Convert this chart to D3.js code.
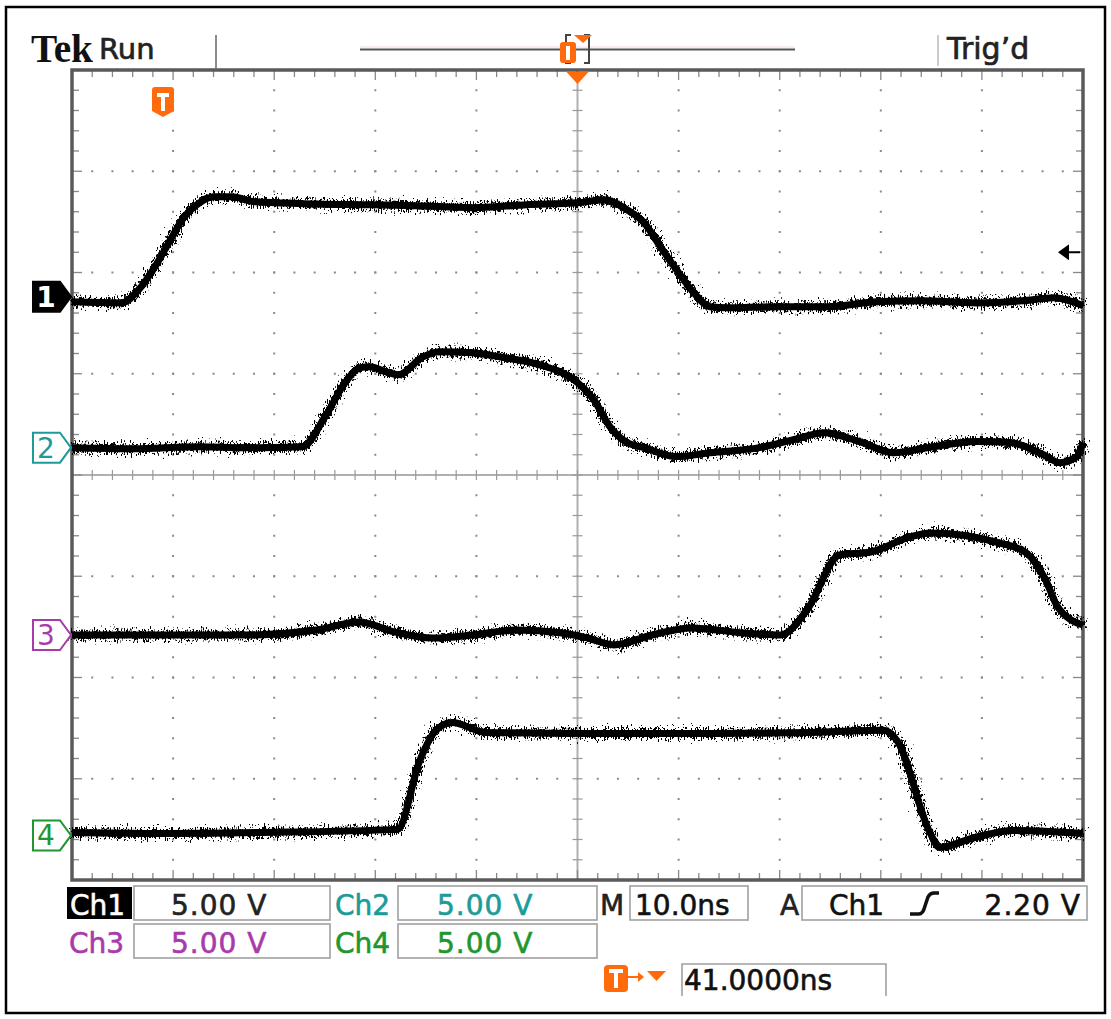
<!DOCTYPE html>
<html>
<head>
<meta charset="utf-8">
<script src="https://cdn.jsdelivr.net/npm/d3@7"></script>
<style>
body { margin: 0; background: #fff; }
svg { display: block; }
text { font-family: "DejaVu Sans", sans-serif; }
</style>
</head>
<body>
<div id="scope"></div>
<script>
// trace samples: time in ns (trigger = 0), volts
let ch1T = [-9, -4.1, -2.4, -0.8, 0.9, 1.9, 3.6, 5.1, 6.8, 9.1, 14, 20.7, 25, 30.6, 36, 41, 43.6, 45.9, 47.6, 49.2, 50.8, 52.5, 54.1, 55.8, 60.7, 65.7, 70.6, 75, 80.5, 85, 88.1, 91];
let ch1V = [-0.25, -0.3, 0.35, 1.48, 2.96, 3.8, 4.64, 4.94, 4.94, 4.69, 4.6, 4.54, 4.5, 4.4, 4.55, 4.64, 4.79, 4.3, 3.65, 2.47, 1.33, 0.2, -0.49, -0.54, -0.49, -0.49, -0.25, -0.2, -0.3, -0.2, -0.05, -0.44];

let ch2T = [-9, -3, 3.7, 8, 13.8, 16, 18, 19.5, 20.5, 22, 23.3, 25.6, 27.3, 30.6, 33.8, 37.2, 41, 42.6, 44.2, 45.9, 47.6, 50.8, 54.1, 59, 62.4, 65.4, 68.9, 72.3, 75.6, 80.5, 83.8, 87.1, 88.7, 90.4, 91];
let ch2V = [0, -0.05, 0.05, 0, 0.05, 1.5, 3.2, 3.95, 4.0, 3.75, 3.6, 4.45, 4.74, 4.69, 4.44, 4.1, 3.21, 2.37, 1.04, 0.25, 0, -0.44, -0.25, 0, 0.4, 0.74, 0.3, -0.25, 0, 0.3, 0.25, -0.35, -0.74, -0.44, 0.25];

let ch3T = [-9, 0, 8, 15.2, 19.4, 22.9, 26.7, 30.6, 35, 39.5, 42, 44.6, 48.4, 52.2, 57.4, 61.1, 63.7, 66.9, 70, 73.9, 75.9, 82.8, 85.4, 87.3, 88.5, 91];
let ch3V = [0, 0, 0, 0.25, 0.64, 0.15, -0.15, 0, 0.25, 0.1, -0.15, -0.49, 0, 0.35, 0.1, 0, 1.23, 3.95, 4.1, 4.84, 5.04, 4.54, 4.05, 2.72, 1.38, 0.49];

let ch4T = [-9, 0, 10, 23.2, 25.4, 27, 28.6, 31.9, 42, 54.8, 65, 71.3, 72.6, 75.9, 76.8, 80.3, 84.1, 91];
let ch4V = [0.15, 0.1, 0.15, 0.3, 3.7, 5.19, 5.58, 5.09, 5.04, 5.04, 5.1, 5.19, 4.69, 0.1, -0.59, -0.1, 0.25, 0.1];

let chNames = ["Ch1", "Ch2", "Ch3", "Ch4"];
let chScaleText = ["5.00 V", "5.00 V", "5.00 V", "5.00 V"];
let voltsPerDiv = 5;
let nsPerDiv = 10;
let trigDelay = 41;
let timebaseText = "10.0ns";
let trigSource = "Ch1";
let trigLevel = 2.2;
let trigLevelText = "2.20 V";
let trigDelayText = "41.0000ns";

// layout / styling (not data)
let chOffsetDiv = [1.76, 0.27, -1.58, -3.56];
let chColor = ["#000", "#1d9a9a", "#a93aab", "#1f9630"];
let orange = "#ff6a0d";
let plot = {left: 72, right: 1083, top: 70, bottom: 880};

let svg = d3.select("#scope").append("svg").attr("width", 1111).attr("height", 1019);

let defs = svg.append("defs");
let flt = defs.append("filter").attr("id", "noise").attr("filterUnits", "userSpaceOnUse")
    .attr("x", 0).attr("y", 0).attr("width", 1111).attr("height", 1019);
flt.append("feTurbulence").attr("type", "fractalNoise").attr("baseFrequency", "1.3 0.3")
    .attr("numOctaves", 2).attr("seed", 7).attr("result", "n");
flt.append("feDisplacementMap").attr("in", "SourceGraphic").attr("in2", "n")
    .attr("scale", 22).attr("xChannelSelector", "R").attr("yChannelSelector", "G");

// outer border
svg.append("rect").attr("x", 6).attr("y", 7).attr("width", 1099).attr("height", 1006)
    .attr("fill", "none").attr("stroke", "#000").attr("stroke-width", 2.5);

let xDiv = d3.scaleLinear().domain([-5, 5]).range([plot.left, plot.right]);
let yDiv = d3.scaleLinear().domain([-4, 4]).range([plot.bottom, plot.top]);
let x = d3.scaleLinear().domain([trigDelay - 5 * nsPerDiv, trigDelay + 5 * nsPerDiv]).range([plot.left, plot.right]);

// graticule
let grid = svg.append("g");
let minorX = d3.range(-5, 5.001, 0.2);
let minorY = d3.range(-4, 4.001, 0.2);
[-4, -3, -2, -1, 1, 2, 3, 4].forEach(k => {
    grid.selectAll(null).data(minorY).enter().append("rect")
        .attr("x", xDiv(k) - 1).attr("y", d => yDiv(d) - 1).attr("width", 2).attr("height", 2).attr("fill", "#8a8a8a");
});
[-3, -2, -1, 1, 2, 3].forEach(k => {
    grid.selectAll(null).data(minorX).enter().append("rect")
        .attr("x", d => xDiv(d) - 1).attr("y", yDiv(k) - 1).attr("width", 2).attr("height", 2).attr("fill", "#8a8a8a");
});
// centre cross with ticks
grid.append("line").attr("x1", plot.left).attr("x2", plot.right).attr("y1", yDiv(0)).attr("y2", yDiv(0))
    .attr("stroke", "#b0b0b0").attr("stroke-width", 2);
grid.append("line").attr("y1", plot.top).attr("y2", plot.bottom).attr("x1", xDiv(0)).attr("x2", xDiv(0))
    .attr("stroke", "#b0b0b0").attr("stroke-width", 2);
grid.selectAll(null).data(minorX).enter().append("line")
    .attr("x1", d => xDiv(d)).attr("x2", d => xDiv(d)).attr("y1", yDiv(0) - 5).attr("y2", yDiv(0) + 5)
    .attr("stroke", "#999").attr("stroke-width", 1.2);
grid.selectAll(null).data(minorY).enter().append("line")
    .attr("y1", d => yDiv(d)).attr("y2", d => yDiv(d)).attr("x1", xDiv(0) - 5).attr("x2", xDiv(0) + 5)
    .attr("stroke", "#999").attr("stroke-width", 1.2);
// ticks on frame
grid.selectAll(null).data(minorX).enter().append("line")
    .attr("x1", d => xDiv(d)).attr("x2", d => xDiv(d)).attr("y1", plot.top).attr("y2", d => plot.top + (Math.abs(d % 1) < 0.01 ? 10 : 7))
    .attr("stroke", "#888").attr("stroke-width", 1.3);
grid.selectAll(null).data(minorX).enter().append("line")
    .attr("x1", d => xDiv(d)).attr("x2", d => xDiv(d)).attr("y1", plot.bottom).attr("y2", d => plot.bottom - (Math.abs(d % 1) < 0.01 ? 10 : 7))
    .attr("stroke", "#888").attr("stroke-width", 1.3);
grid.selectAll(null).data(minorY).enter().append("line")
    .attr("y1", d => yDiv(d)).attr("y2", d => yDiv(d)).attr("x1", plot.left).attr("x2", d => plot.left + (Math.abs(d % 1) < 0.01 ? 10 : 7))
    .attr("stroke", "#888").attr("stroke-width", 1.3);
grid.selectAll(null).data(minorY).enter().append("line")
    .attr("y1", d => yDiv(d)).attr("y2", d => yDiv(d)).attr("x1", plot.right).attr("x2", d => plot.right - (Math.abs(d % 1) < 0.01 ? 10 : 7))
    .attr("stroke", "#888").attr("stroke-width", 1.3);
grid.append("rect").attr("x", plot.left).attr("y", plot.top)
    .attr("width", plot.right - plot.left).attr("height", plot.bottom - plot.top)
    .attr("fill", "none").attr("stroke", "#5a5a5a").attr("stroke-width", 3.5);

// traces
let traces = [[ch1T, ch1V], [ch2T, ch2V], [ch3T, ch3V], [ch4T, ch4V]];
let traceG = svg.append("g");
traces.forEach((tr, i) => {
    let pts = tr[0].map((t, j) => ({t: t, v: tr[1][j]}));
    let line = d3.line()
        .x(d => x(d.t))
        .y(d => yDiv(chOffsetDiv[i] + d.v / voltsPerDiv))
        .curve(d3.curveMonotoneX);
    traceG.append("path").attr("d", line(pts)).attr("fill", "none")
        .attr("stroke", "#000").attr("stroke-width", 7);
    traceG.append("path").attr("d", line(pts)).attr("fill", "none")
        .attr("stroke", "#000").attr("stroke-width", 7).attr("filter", "url(#noise)");
});

// channel ground markers
chNames.forEach((c, i) => {
    let yy = yDiv(chOffsetDiv[i]);
    let g = svg.append("g").attr("transform", "translate(0," + yy + ")");
    g.append("path").attr("d", "M33,-15 L60,-15 L71,0 L60,15 L33,15 Z")
        .attr("fill", i == 0 ? "#000" : "#fff").attr("stroke", chColor[i]).attr("stroke-width", 2);
    g.append("text").attr("x", 46).attr("y", 10).attr("text-anchor", "middle")
        .attr("font-size", 28).attr("font-weight", i == 0 ? "bold" : "normal")
        .attr("fill", i == 0 ? "#fff" : chColor[i]).text(c.slice(2));
});

// trigger level arrow on the right
let trigY = yDiv(chOffsetDiv[0] + trigLevel / voltsPerDiv);
svg.append("line").attr("x1", 1064).attr("x2", 1080).attr("y1", trigY).attr("y2", trigY).attr("stroke", "#000").attr("stroke-width", 2);
svg.append("path").attr("d", "M1058," + trigY + " L1069," + (trigY - 8) + " L1069," + (trigY + 8) + " Z").attr("fill", "#000");

// trigger point marker T
function tMarker(g, cx, top) {
    g.append("path").attr("d", `M${cx - 11},${top + 3} Q${cx - 11},${top} ${cx - 8},${top} L${cx + 8},${top} Q${cx + 11},${top} ${cx + 11},${top + 3} L${cx + 11},${top + 24} L${cx},${top + 30} L${cx - 11},${top + 24} Z`)
        .attr("fill", orange);
    g.append("path").attr("d", `M${cx - 6},${top + 6} L${cx + 6},${top + 6} L${cx + 6},${top + 10} L${cx + 2},${top + 10} L${cx + 2},${top + 24} L${cx - 2},${top + 24} L${cx - 2},${top + 10} L${cx - 6},${top + 10} Z`)
        .attr("fill", "#fff");
}
tMarker(svg.append("g"), x(0), 87);

// expansion point triangle under the top frame
let cx0 = xDiv(0);
svg.append("path").attr("d", `M${cx0 - 11},72 L${cx0 + 11},72 L${cx0},84 Z`).attr("fill", orange);

// header
svg.append("text").attr("x", 31).attr("y", 62)
    .attr("font-weight", "bold").attr("font-size", 40).attr("textLength", 62).attr("lengthAdjust", "spacingAndGlyphs")
    .style("font-family", "'Liberation Serif', serif").attr("fill", "#111").text("Tek");
svg.append("text").attr("x", 99).attr("y", 59).attr("font-size", 29).attr("fill", "#222")
    .attr("stroke", "#222").attr("stroke-width", 0.7).text("Run");
svg.append("line").attr("x1", 216).attr("x2", 216).attr("y1", 35).attr("y2", 70).attr("stroke", "#666").attr("stroke-width", 1.5);
svg.append("line").attr("x1", 360).attr("x2", 795).attr("y1", 47).attr("y2", 47).attr("stroke", "#f0d8ea").attr("stroke-width", 1);
svg.append("line").attr("x1", 360).attr("x2", 795).attr("y1", 49.5).attr("y2", 49.5).attr("stroke", "#555").attr("stroke-width", 2);
svg.append("path").attr("d", "M571,35 L566,35 L566,63 L571,63 M584,35 L589,35 L589,63 L584,63")
    .attr("fill", "none").attr("stroke", "#444").attr("stroke-width", 2);
svg.append("rect").attr("x", 560).attr("y", 42).attr("width", 16).attr("height", 21).attr("rx", 3).attr("fill", orange);
svg.append("rect").attr("x", 566).attr("y", 46).attr("width", 4).attr("height", 14).attr("fill", "#fff");
svg.append("path").attr("d", "M574,35 L592,35 L583,43 Z").attr("fill", orange);
svg.append("line").attr("x1", 938).attr("x2", 938).attr("y1", 35).attr("y2", 66).attr("stroke", "#bbb").attr("stroke-width", 1.5);
svg.append("text").attr("x", 947).attr("y", 59).attr("font-size", 30).attr("fill", "#222")
    .attr("stroke", "#222").attr("stroke-width", 0.7).text("Trig\u2019d");

// readouts
let ro = svg.append("g");
function box(x0, y0, x1, y1) {
    ro.append("rect").attr("x", x0).attr("y", y0).attr("width", x1 - x0).attr("height", y1 - y0)
        .attr("fill", "none").attr("stroke", "#a0a0a0").attr("stroke-width", 1.6);
}
box(134, 886, 330, 920);
box(398, 886, 597, 920);
box(134, 924, 330, 958);
box(398, 924, 597, 958);
box(630, 886, 748, 920);
box(802, 886, 1087, 920);

function rtext(xx, yy, str, col, anchor) {
    return ro.append("text").attr("x", xx).attr("y", yy).attr("font-size", 28)
        .attr("text-anchor", anchor || "start").attr("fill", col)
        .attr("stroke", col).attr("stroke-width", 0.6).text(str);
}

ro.append("rect").attr("x", 67).attr("y", 887).attr("width", 65).attr("height", 32).attr("fill", "#000");
let rowY = [915, 915, 953, 953];
let labelX = [70, 335, 69, 335];
let valX = [171, 437, 171, 437];
chNames.forEach((c, i) => {
    rtext(labelX[i], rowY[i], c, i == 0 ? "#fff" : chColor[i]);
    rtext(valX[i], rowY[i], chScaleText[i], i == 0 ? "#222" : chColor[i]).attr("letter-spacing", 1);
});
rtext(600, 915, "M", "#222");
rtext(635, 915, timebaseText, "#111");
rtext(780, 915, "A", "#222");
rtext(829, 915, trigSource, "#111");
ro.append("path").attr("d", "M910,914 L919,914 Q923,914 925,906 L928,897 Q930,893 934,893 L939,893")
    .attr("fill", "none").attr("stroke", "#111").attr("stroke-width", 3.5);
rtext(1081, 915, trigLevelText, "#111", "end").attr("letter-spacing", 1);

// trigger delay readout
ro.append("rect").attr("x", 604).attr("y", 965).attr("width", 24).attr("height", 27).attr("rx", 4).attr("fill", orange);
ro.append("path").attr("d", "M609,969 L623,969 L623,973 L618,973 L618,988 L614,988 L614,973 L609,973 Z").attr("fill", "#fff");
ro.append("line").attr("x1", 628).attr("x2", 642).attr("y1", 977).attr("y2", 977).attr("stroke", orange).attr("stroke-width", 2);
ro.append("path").attr("d", "M638,972 L644,977 L638,982 Z").attr("fill", orange);
ro.append("path").attr("d", "M647,971 L666,971 L656.5,981 Z").attr("fill", orange);
ro.append("path").attr("d", "M682,996 L682,964 L886,964 L886,996")
    .attr("fill", "none").attr("stroke", "#a0a0a0").attr("stroke-width", 1.6);
rtext(684, 990, trigDelayText, "#111");
</script>
</body>
</html>
